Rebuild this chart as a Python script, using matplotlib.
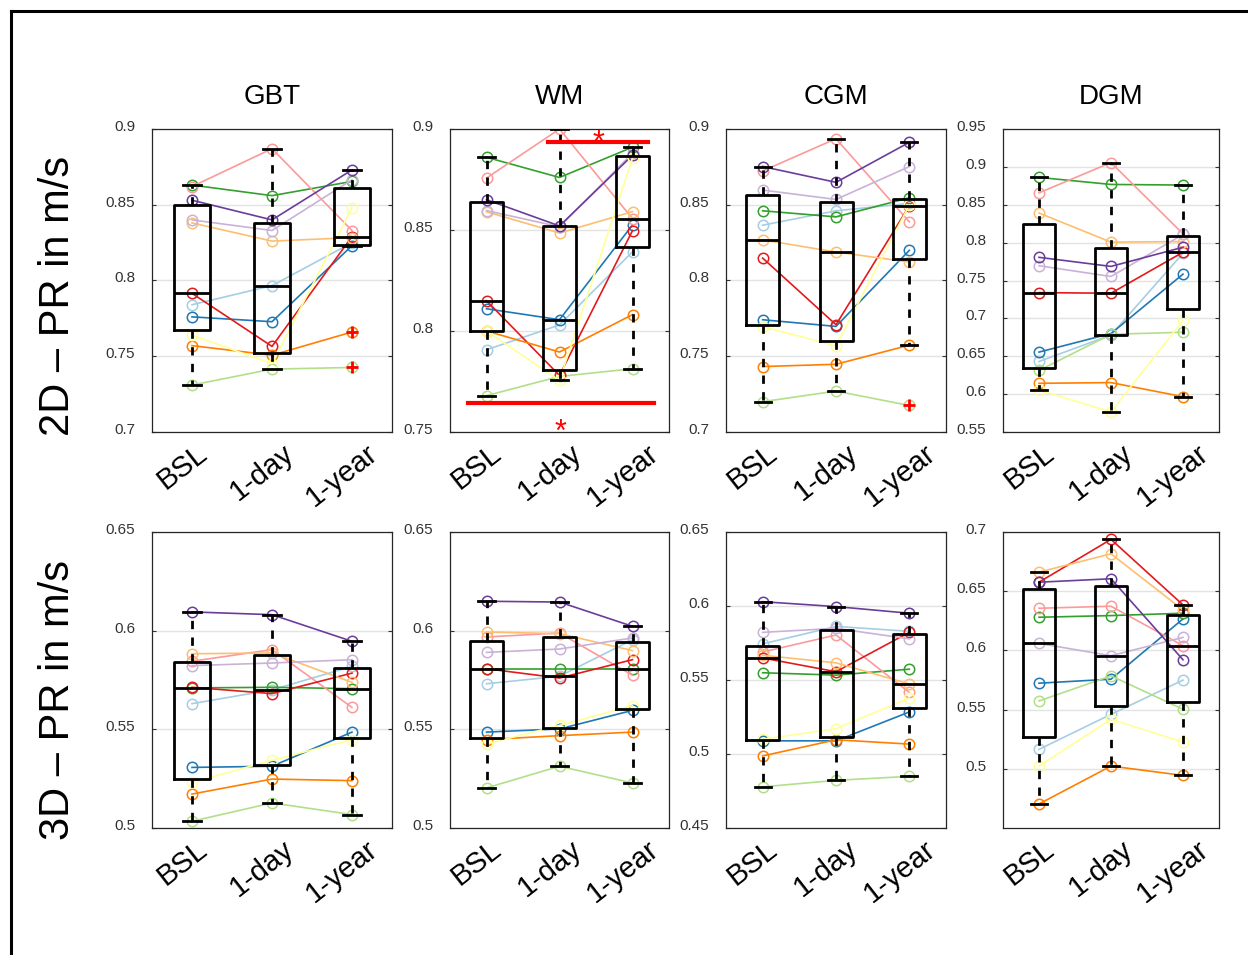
import numpy as np
import matplotlib
matplotlib.use('Agg')
import matplotlib.pyplot as plt
from matplotlib.lines import Line2D
from matplotlib.transforms import ScaledTranslation

plt.rcParams['font.family'] = ['Liberation Sans', 'DejaVu Sans']

timepoints = ['BSL', '1-day', '1-year']
regions = ['GBT', 'WM', 'CGM', 'DGM']
row_labels = ['2D \u2013 PR in m/s', '3D \u2013 PR in m/s']

# one row per subject: BSL, 1-day, 1-year
gbt_2d = [[0.784, 0.7966, 0.825], [0.776, 0.7728, 0.823], [0.731, 0.7415, 0.7426],
          [0.863, 0.856, 0.8654], [0.862, 0.887, 0.833], [0.7915, 0.7565, 0.829],
          [0.838, 0.826, 0.8283], [0.757, 0.7507, 0.766], [0.840, 0.833, 0.8665],
          [0.853, 0.840, 0.873], [0.764, 0.745, 0.848]]
wm_2d = [[0.7907, 0.803, 0.8392], [0.811, 0.8056, 0.8525], [0.768, 0.7775, 0.7813],
         [0.886, 0.876, 0.891], [0.8757, 0.900, 0.8556], [0.815, 0.778, 0.8497],
         [0.859, 0.8485, 0.8591], [0.800, 0.7896, 0.8081], [0.8596, 0.8516, 0.888],
         [0.865, 0.852, 0.887], [0.800, 0.7755, 0.8856]]
cgm_2d = [[0.8365, 0.846, 0.8509], [0.7741, 0.7697, 0.8199], [0.720, 0.727, 0.7175],
          [0.846, 0.842, 0.8546], [0.8723, 0.8936, 0.8387], [0.8148, 0.7708, 0.8493],
          [0.8268, 0.8188, 0.8122], [0.7432, 0.7447, 0.7573], [0.8597, 0.8535, 0.8752],
          [0.8752, 0.8648, 0.8912], [0.7695, 0.7569, 0.8498]]
dgm_2d = [[0.6431, 0.678, 0.786], [0.6555, 0.680, 0.7584], [0.6312, 0.679, 0.6817],
          [0.8861, 0.8768, 0.876], [0.8657, 0.9057, 0.8116], [0.734, 0.7332, 0.7873],
          [0.8391, 0.8006, 0.8014], [0.6143, 0.6152, 0.5966], [0.7695, 0.7553, 0.8108],
          [0.7806, 0.7686, 0.7939], [0.6054, 0.5766, 0.6973]]
gbt_3d = [[0.563, 0.570, 0.5819], [0.5307, 0.5313, 0.5486], [0.5034, 0.5127, 0.5068],
          [0.571, 0.5713, 0.5706], [0.5845, 0.5904, 0.5611], [0.5713, 0.5681, 0.5785],
          [0.5883, 0.5887, 0.5738], [0.5172, 0.5248, 0.524], [0.5823, 0.5836, 0.5853],
          [0.6095, 0.6081, 0.5946], [0.5231, 0.5343, 0.5448]]
wm_3d = [[0.5731, 0.5769, 0.5954], [0.5486, 0.5502, 0.5596], [0.5203, 0.5313, 0.5228],
         [0.5807, 0.5807, 0.5807], [0.5968, 0.5988, 0.5774], [0.5807, 0.576, 0.5853],
         [0.5993, 0.5985, 0.5899], [0.5448, 0.5468, 0.5486], [0.589, 0.5907, 0.5963],
         [0.6149, 0.6145, 0.6022], [0.5426, 0.552, 0.562]]
cgm_3d = [[0.5744, 0.5862, 0.5829], [0.5089, 0.5089, 0.5284], [0.4778, 0.4822, 0.4849],
          [0.5549, 0.5533, 0.5573], [0.5689, 0.5804, 0.5416], [0.5649, 0.5556, 0.5822],
          [0.5667, 0.5616, 0.5473], [0.4987, 0.5096, 0.5067], [0.5822, 0.5849, 0.5778],
          [0.6029, 0.5996, 0.5951], [0.510, 0.5171, 0.5378]]
dgm_3d = [[0.5164, 0.546, 0.5749], [0.5723, 0.5757, 0.6266], [0.5573, 0.5785, 0.5503],
          [0.628, 0.6294, 0.6314], [0.6356, 0.6373, 0.604], [0.6576, 0.6938, 0.6384],
          [0.6661, 0.6816, 0.6342], [0.4703, 0.5023, 0.4944], [0.6059, 0.5955, 0.611],
          [0.6576, 0.6605, 0.5921], [0.5023, 0.5418, 0.5226]]

subject_colors = ['#a6cee3', '#1f78b4', '#b2df8a', '#33a02c', '#fb9a99', '#e31a1c',
                  '#fdbf6f', '#ff7f00', '#cab2d6', '#6a3d9a', '#ffff99']

panels = [[gbt_2d, wm_2d, cgm_2d, dgm_2d], [gbt_3d, wm_3d, cgm_3d, dgm_3d]]
ylims = [[(0.7, 0.9), (0.75, 0.9), (0.7, 0.9), (0.55, 0.95)],
         [(0.5, 0.65), (0.5, 0.65), (0.45, 0.65), (0.45, 0.7)]]
first_tick = [[0.7, 0.75, 0.7, 0.55], [0.5, 0.5, 0.45, 0.5]]

W, H = 1248, 955
cols_px = [(152, 392), (450, 669), (726, 946), (1003, 1219)]
rows_px = [(129, 432), (532, 828)]


def box_stats(vals):
    # quartiles like MATLAB's prctile
    q1, med, q3 = np.percentile(vals, [25, 50, 75], method='hazen')
    iqr = q3 - q1
    lo = vals[vals >= q1 - 1.5 * iqr].min()
    hi = vals[vals <= q3 + 1.5 * iqr].max()
    fl = vals[(vals < lo) | (vals > hi)]
    return dict(med=med, q1=q1, q3=q3, whislo=lo, whishi=hi, fliers=fl)


fig = plt.figure(figsize=(W / 100, H / 100), dpi=100)

for r in range(2):
    for c in range(4):
        x0, x1 = cols_px[c]
        y0, y1 = rows_px[r]
        ax = fig.add_axes([x0 / W, 1 - y1 / H, (x1 - x0) / W, (y1 - y0) / H])
        data = np.array(panels[r][c])
        pos = np.arange(1, 4)

        for s in range(len(data)):
            ax.plot(pos, data[s], color=subject_colors[s], lw=1.2, marker='o',
                    ms=7.5, mfc='none', mew=1.1, zorder=2)

        stats = [box_stats(data[:, t]) for t in range(3)]
        ax.bxp(stats, positions=pos, widths=0.45, capwidths=0.22, showfliers=True,
               boxprops=dict(color='black', lw=2),
               medianprops=dict(color='black', lw=2),
               whiskerprops=dict(color='black', lw=2, linestyle=(0, (3, 3))),
               capprops=dict(color='black', lw=2),
               flierprops=dict(marker='+', markeredgecolor='red', markersize=8, mew=2),
               zorder=3)

        lo, hi = ylims[r][c]
        ax.set_ylim(lo, hi)
        ax.set_xlim(0.5, 3.5)
        ticks = np.round(np.arange(first_tick[r][c], hi + 1e-9, 0.05), 2)
        ax.set_yticks(ticks)
        ax.set_yticklabels([f'{t:g}' for t in ticks])
        ax.yaxis.grid(True, color='#e3e3e3', lw=1)
        ax.set_axisbelow(True)
        ax.tick_params(axis='y', direction='in', right=True, length=3, labelsize=11,
                       labelcolor='#333333', color='#333333', pad=12)
        yoff = ScaledTranslation(0, 3.5 / 100, fig.dpi_scale_trans)
        for lab in ax.get_yticklabels():
            lab.set_transform(lab.get_transform() + yoff)
        ax.set_xticks(pos)
        ax.set_xticklabels(timepoints, rotation=38, ha='center', va='top', fontsize=21)
        ax.tick_params(axis='x', length=0, pad=5)
        offset = ScaledTranslation(-10 / 100, 0, fig.dpi_scale_trans)
        for lab in ax.get_xticklabels():
            lab.set_transform(lab.get_transform() + offset)
        for sp in ax.spines.values():
            sp.set_color('#262626')
            sp.set_linewidth(0.9)
        if r == 0:
            ax.set_title(regions[c], fontsize=20, pad=18)

        if r == 0 and c == 1:
            # significance markers
            ax.plot([0.75, 3.29], [0.7642, 0.7642], color='red', lw=3, clip_on=False, zorder=4)
            ax.text(2.02, 0.7495, '*', color='red', fontsize=22, ha='center', va='center')
            ax.plot([1.84, 3.21], [0.8934, 0.8934], color='red', lw=3, clip_on=False, zorder=4)
            ax.text(2.54, 0.8925, '*', color='red', fontsize=22, ha='center', va='center')

fig.text(58 / W, 1 - 296 / H, row_labels[0], rotation=90, fontsize=30, ha='center', va='center')
fig.text(58 / W, 1 - 700 / H, row_labels[1], rotation=90, fontsize=30, ha='center', va='center')

# outer frame
fig.add_artist(Line2D([11 / W, 11 / W], [0, 1 - 11 / H], color='black', lw=2.2, transform=fig.transFigure))
fig.add_artist(Line2D([11 / W, 1], [1 - 11 / H, 1 - 11 / H], color='black', lw=2.2, transform=fig.transFigure))

fig.savefig('out.png', dpi=100)
